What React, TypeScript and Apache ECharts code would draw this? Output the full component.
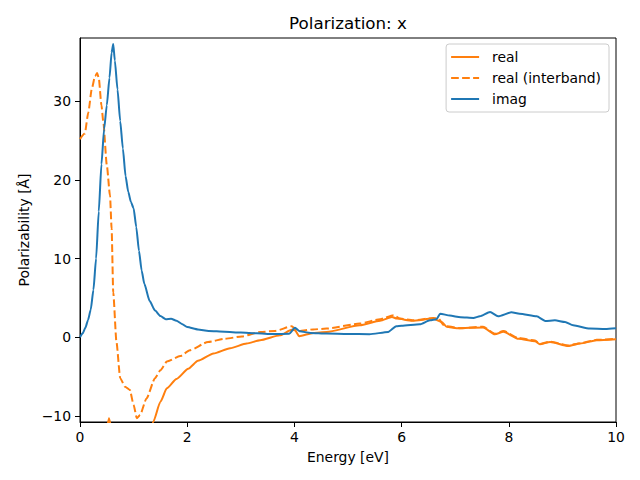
import React, { useEffect, useRef } from "react";
import * as echarts from "echarts";

const titleText = "Polarization: x";
const xName = "Energy [eV]";
const yName = "Polarizability [Å]";
const xTicks = [0, 2, 4, 6, 8, 10];
const yTicks = [-10, 0, 10, 20, 30];

const imagEnergy = [0, 0.05, 0.1, 0.15, 0.2, 0.25, 0.3, 0.35, 0.4, 0.45, 0.5, 0.55, 0.59, 0.62, 0.65, 0.7, 0.75, 0.8, 0.85, 0.9, 0.95, 1.0, 1.05, 1.1, 1.15, 1.2, 1.3, 1.4, 1.5, 1.6, 1.7, 1.8, 1.9, 2.0, 2.2, 2.4, 2.7, 3.0, 3.3, 3.6, 3.9, 4.01, 4.1, 4.3, 4.6, 5.0, 5.4, 5.75, 5.9, 6.0, 6.34, 6.53, 6.65, 6.72, 6.9, 7.1, 7.34, 7.46, 7.65, 7.8, 8.05, 8.2, 8.52, 8.68, 8.86, 9.05, 9.2, 9.51, 9.8, 10];
const imagValues = [0.0, 0.5, 1.2, 2.2, 3.5, 6.0, 10.0, 16.0, 22.0, 26.5, 29.5, 33.0, 36.2, 37.3, 35.2, 31.5, 27.5, 24.0, 20.5, 18.5, 17.2, 16.4, 14.0, 11.0, 8.5, 6.8, 4.6, 3.4, 2.7, 2.3, 2.35, 2.1, 1.7, 1.3, 1.0, 0.8, 0.7, 0.6, 0.5, 0.4, 0.45, 1.2, 0.75, 0.55, 0.47, 0.42, 0.38, 0.67, 1.4, 1.45, 1.65, 2.15, 2.3, 3.0, 2.75, 2.55, 2.45, 2.66, 3.2, 2.66, 3.17, 3.0, 2.66, 2.07, 2.15, 1.94, 1.52, 1.1, 1.05, 1.15];

const interEnergy = [0, 0.09, 0.155, 0.22, 0.28, 0.32, 0.35, 0.4, 0.435, 0.5, 0.56, 0.59, 0.62, 0.68, 0.75, 0.84, 0.93, 1.0, 1.06, 1.12, 1.24, 1.4, 1.5, 1.62, 1.87, 2.05, 2.39, 2.7, 3.02, 3.36, 3.64, 3.95, 4.04, 4.07, 4.35, 4.6, 5.22, 5.6, 5.85, 5.97, 6.22, 6.59, 6.69, 6.78, 6.84, 7.09, 7.52, 7.74, 7.9, 8.18, 8.49, 8.58, 8.77, 9.11, 9.33, 9.64, 10];
const interValues = [25.2, 25.9, 28.6, 31.6, 33.2, 33.6, 33.0, 29.5, 27.4, 21.9, 18.0, 13.8, 5.7, -0.6, -5.2, -6.3, -6.7, -8.6, -10.3, -9.9, -7.8, -5.2, -4.2, -3.1, -2.4, -1.65, -0.6, -0.2, 0.1, 0.67, 0.8, 1.4, 0.9, 0.76, 1.0, 1.1, 1.74, 2.3, 2.8, 2.37, 2.15, 2.45, 2.37, 1.55, 1.4, 1.15, 1.35, 0.45, 0.8, -0.1, -0.4, -0.85, -0.55, -1.05, -0.75, -0.33, -0.2];

const realEnergy = [0.3, 0.4, 0.47, 0.54, 0.6, 0.7, 0.9, 1.1, 1.3, 1.37, 1.5, 1.62, 1.8, 2.02, 2.2, 2.49, 2.8, 3.11, 3.36, 3.73, 3.95, 4.01, 4.09, 4.35, 4.6, 5.22, 5.6, 5.82, 5.91, 6.2, 6.59, 6.75, 6.84, 7.03, 7.52, 7.74, 7.9, 8.18, 8.49, 8.58, 8.77, 9.11, 9.33, 9.64, 10];
const realValues = [-60, -25, -13, -10.3, -12, -20, -18, -16, -12.5, -10.7, -8.2, -6.5, -5.3, -4.0, -3.0, -2.07, -1.4, -0.8, -0.38, 0.25, 0.95, 0.9, 0.13, 0.55, 0.67, 1.52, 2.1, 2.58, 2.37, 2.1, 2.37, 1.94, 1.35, 1.15, 1.25, 0.38, 0.7, -0.2, -0.5, -0.9, -0.6, -1.1, -0.8, -0.38, -0.25];

const zip = (xs: number[], ys: number[]) => xs.map((x, i) => [x, ys[i]]);
const FONT = "DejaVu Sans";
const fmt = (v: number) => String(v).replace("-", "\u2212");

export default function App() {
  const ref = useRef<HTMLDivElement>(null);
  useEffect(() => {
    if (!ref.current) return;
    const chart = echarts.init(ref.current, null, { renderer: "svg" });
    const lineCommon = {
      type: "line",
      showSymbol: false,
      symbol: "none",
      clip: true,
      smooth: 0.2,
      smoothMonotone: "x",
    };
    chart.setOption({
      animation: false,
      backgroundColor: "#ffffff",
      textStyle: { fontFamily: FONT },
      graphic: [
        {
          type: "text",
          x: 348,
          y: 23,
          style: {
            text: titleText,
            font: `16.7px ${FONT}`,
            fill: "#000",
            textAlign: "center",
            textVerticalAlign: "middle",
          },
        },
      ],
      grid: {
        left: 80,
        right: 24,
        top: 38,
        bottom: 58,
        show: true,
        borderColor: "#000",
        borderWidth: 1,
        backgroundColor: "transparent",
      },
      legend: {
        orient: "vertical",
        right: 31,
        top: 44,
        padding: [6, 8, 6, 4],
        itemWidth: 28,
        itemHeight: 14,
        itemGap: 7,
        backgroundColor: "rgba(255,255,255,0.8)",
        borderColor: "#cccccc",
        borderWidth: 1,
        borderRadius: 3,
        itemStyle: { opacity: 0 },
        textStyle: { fontFamily: FONT, fontSize: 13.9, color: "#000", padding: [0, 0, 0, 8] },
        data: ["real", "real (interband)", "imag"],
      },
      xAxis: {
        type: "value",
        min: 0,
        max: 10,
        interval: 2,
        name: xName,
        nameLocation: "middle",
        nameGap: 28,
        nameTextStyle: { fontFamily: FONT, fontSize: 13.9, color: "#000" },
        axisLine: { show: true, onZero: false, lineStyle: { color: "#000", width: 1 } },
        axisTick: { show: true, length: 5, lineStyle: { color: "#000" } },
        axisLabel: { margin: 8, fontFamily: FONT, fontSize: 13.9, color: "#000", formatter: fmt, customValues: xTicks },
        splitLine: { show: false },
      },
      yAxis: {
        type: "value",
        min: -10.78,
        max: 38.06,
        name: yName,
        nameLocation: "middle",
        nameGap: 49,
        nameTextStyle: { fontFamily: FONT, fontSize: 13.9, color: "#000" },
        axisLine: { show: true, onZero: false, lineStyle: { color: "#000", width: 1 } },
        axisTick: { show: true, length: 5, lineStyle: { color: "#000" }, customValues: yTicks },
        axisLabel: { margin: 9, fontFamily: FONT, fontSize: 13.9, color: "#000", formatter: fmt, customValues: yTicks },
        splitLine: { show: false },
      },
      series: [
        {
          ...lineCommon,
          name: "real",
          data: zip(realEnergy, realValues),
          lineStyle: { color: "#ff7f0e", width: 2 },
          itemStyle: { color: "#ff7f0e" },
        },
        {
          ...lineCommon,
          name: "real (interband)",
          data: zip(interEnergy, interValues),
          lineStyle: { color: "#ff7f0e", width: 2, type: [7.7, 3.3] },
          itemStyle: { color: "#ff7f0e" },
        },
        {
          ...lineCommon,
          name: "imag",
          data: zip(imagEnergy, imagValues),
          lineStyle: { color: "#1f77b4", width: 2 },
          itemStyle: { color: "#1f77b4" },
        },
      ],
    });
    return () => chart.dispose();
  }, []);
  return <div ref={ref} style={{ position: "fixed", left: 0, top: 0, width: 640, height: 480 }} />;
}
